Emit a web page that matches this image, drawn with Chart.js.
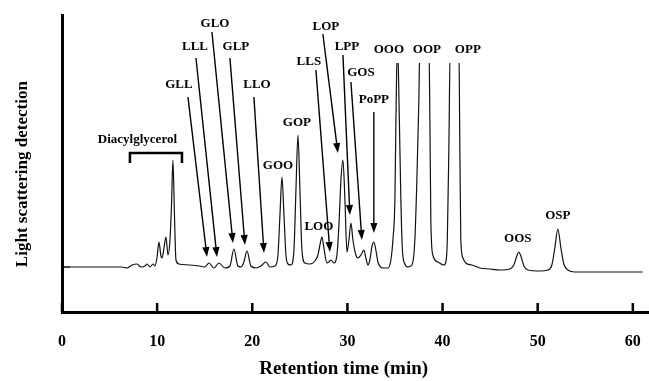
<!DOCTYPE html>
<html>
<head>
<meta charset="utf-8">
<script src="https://cdn.jsdelivr.net/npm/chart.js@4.4.1/dist/chart.umd.min.js"></script>
<style>
  html, body { margin: 0; padding: 0; background: #fff; }
  #wrap { width: 649px; height: 381px; }
</style>
</head>
<body>
<div id="wrap"><canvas id="c" width="649" height="381"></canvas></div>
<script>
// Retention time (min)
const times = [0, 6.30, 6.83, 7.36, 7.88, 8.30, 8.72, 8.93, 9.25, 9.56, 9.77, 9.98, 10.19, 10.40, 10.51, 10.72, 10.93, 11.14, 11.35, 11.51, 11.66, 11.82, 11.98, 12.29, 13.45, 14.50, 15.02, 15.45, 15.97, 16.50, 17.13, 17.65, 18.07, 18.49, 18.81, 19.12, 19.44, 19.86, 20.39, 20.91, 21.44, 21.86, 22.39, 22.70, 22.91, 23.12, 23.33, 23.54, 23.75, 24.07, 24.38, 24.59, 24.80, 25.01, 25.22, 25.53, 26.06, 26.58, 26.90, 27.11, 27.32, 27.53, 27.84, 28.05, 28.27, 28.58, 28.90, 29.11, 29.32, 29.53, 29.74, 29.95, 30.16, 30.37, 30.58, 30.89, 31.10, 31.42, 31.73, 31.94, 32.15, 32.36, 32.57, 32.78, 32.99, 33.21, 33.73, 34.26, 34.57, 34.78, 34.99, 35.10, 35.26, 35.46, 35.62, 35.78, 36.04, 36.36, 36.78, 37.09, 37.30, 37.51, 37.62, 38.56, 38.67, 38.77, 38.98, 39.51, 40.14, 40.35, 40.50, 40.66, 40.82, 41.71, 41.82, 41.92, 42.14, 42.45, 43.08, 43.92, 44.97, 46.02, 47.07, 47.49, 47.81, 48.02, 48.23, 48.55, 48.97, 50.23, 51.07, 51.49, 51.80, 52.12, 52.44, 52.75, 53.17, 53.91, 56.53, 61.05];
// Detector signal (arbitrary units, baseline = 0)
const signal = [0, 0, -1, 2, 3, 0, 1, 3, 0, 3, 1, 9, 25, 11, 9, 19, 30, 12, 27, 62, 107, 52, 7, 3, 2, 1, 0, 4, -1, 4, -1, 1, 18, 1, 0, 5, 16, 1, -1, 1, 5, 0, 1, 12, 52, 90, 52, 12, 3, 2, 17, 77, 132, 77, 17, 4, 3, 6, 12, 22, 30, 19, 4, 5, 7, 4, 12, 42, 87, 107, 67, 15, 27, 44, 27, 12, 9, 12, 17, 9, 2, 7, 20, 25, 17, 5, -1, -1, 7, 27, 67, 147, 227, 147, 67, 17, 3, 0, 2, 27, 87, 167, 227, 227, 147, 47, 12, 5, 2, 5, 27, 117, 227, 227, 117, 27, 9, 4, 2, -1, -2, -3, -2, 2, 11, 15, 11, 1, -3, -4, -3, 2, 19, 38, 19, 3, -3, -5, -5, -5];

const xTicks = [0, 10, 20, 30, 40, 50, 60];
const xTitle = "Retention time (min)";
const yTitle = "Light scattering detection";

// Peak labels: text, label position (min, signal), optional arrow [fromX, fromY, toX, toY]
const peakLabels = [
  { text: "GLL",  x: 12.29, y: 182, arrow: [13.24, 170, 15.24, 10] },
  { text: "LLL",  x: 13.98, y: 220, arrow: [14.08, 209, 16.29, 10] },
  { text: "GLO",  x: 16.08, y: 243, arrow: [15.76, 235, 17.97, 24] },
  { text: "GLP",  x: 18.28, y: 220, arrow: [17.65, 209, 19.23, 22] },
  { text: "LLO",  x: 20.49, y: 182, arrow: [20.17, 170, 21.23, 14] },
  { text: "GOO",  x: 22.70, y: 101 },
  { text: "GOP",  x: 24.69, y: 144 },
  { text: "LOO",  x: 27.00, y: 40 },
  { text: "LLS",  x: 25.95, y: 205, arrow: [26.69, 197, 28.16, 15] },
  { text: "LOP",  x: 27.74, y: 240, arrow: [27.42, 233, 29.00, 114] },
  { text: "LPP",  x: 29.95, y: 220, arrow: [29.53, 212, 30.26, 52] },
  { text: "GOS",  x: 31.42, y: 194, arrow: [30.37, 185, 31.52, 27] },
  { text: "PoPP", x: 32.78, y: 167, arrow: [32.78, 155, 32.78, 34] },
  { text: "OOO",  x: 34.36, y: 217 },
  { text: "OOP",  x: 38.35, y: 217 },
  { text: "OPP",  x: 42.66, y: 217 },
  { text: "OOS",  x: 47.91, y: 28 },
  { text: "OSP",  x: 52.12, y: 51 }
];
// Diacylglycerol group bracket: label and bracket span (min) and height
const groupLabel = { text: "Diacylglycerol", x: 7.93, y: 127 };
const groupBracket = { x1: 7.14, x2: 12.61, y: 114, yEnd: 104 };

const SERIF = "'Liberation Serif', 'Times New Roman', serif";

const annotate = {
  id: 'annotate',
  afterDatasetsDraw(chart) {
    const ctx = chart.ctx;
    const xs = chart.scales.x, ys = chart.scales.y;
    const area = chart.chartArea;
    ctx.save();
    ctx.strokeStyle = '#000';
    ctx.fillStyle = '#000';
    // inner tick marks on x axis
    ctx.lineWidth = 2.5;
    xs.ticks.forEach(t => {
      const px = xs.getPixelForValue(t.value);
      ctx.beginPath();
      ctx.moveTo(px, area.bottom);
      ctx.lineTo(px, area.bottom - 9);
      ctx.stroke();
    });
    // baseline tick on y axis
    ctx.lineWidth = 1;
    const by = ys.getPixelForValue(0);
    ctx.beginPath();
    ctx.moveTo(area.left, by);
    ctx.lineTo(area.left + 8, by);
    ctx.stroke();

    // labels
    ctx.font = "bold 13px " + SERIF;
    ctx.textAlign = 'center';
    ctx.textBaseline = 'middle';
    peakLabels.forEach(p => {
      ctx.fillText(p.text, xs.getPixelForValue(p.x), ys.getPixelForValue(p.y));
      if (p.arrow) {
        const x1 = xs.getPixelForValue(p.arrow[0]), y1 = ys.getPixelForValue(p.arrow[1]);
        const x2 = xs.getPixelForValue(p.arrow[2]), y2 = ys.getPixelForValue(p.arrow[3]);
        const ang = Math.atan2(y2 - y1, x2 - x1);
        const hl = 10, hw = 3.6;
        const bx = x2 - hl * Math.cos(ang), byy = y2 - hl * Math.sin(ang);
        ctx.lineWidth = 1.4;
        ctx.beginPath();
        ctx.moveTo(x1, y1);
        ctx.lineTo(bx, byy);
        ctx.stroke();
        ctx.beginPath();
        ctx.moveTo(x2, y2);
        ctx.lineTo(bx + hw * Math.sin(ang), byy - hw * Math.cos(ang));
        ctx.lineTo(bx - hw * Math.sin(ang), byy + hw * Math.cos(ang));
        ctx.closePath();
        ctx.fill();
      }
    });
    // group label and bracket
    ctx.fillText(groupLabel.text, xs.getPixelForValue(groupLabel.x), ys.getPixelForValue(groupLabel.y));
    const gx1 = xs.getPixelForValue(groupBracket.x1), gx2 = xs.getPixelForValue(groupBracket.x2);
    const gy = ys.getPixelForValue(groupBracket.y), gy2 = ys.getPixelForValue(groupBracket.yEnd);
    ctx.lineWidth = 2.5;
    ctx.lineJoin = 'miter';
    ctx.beginPath();
    ctx.moveTo(gx1, gy2);
    ctx.lineTo(gx1, gy);
    ctx.lineTo(gx2, gy);
    ctx.lineTo(gx2, gy2);
    ctx.stroke();
    ctx.restore();
  }
};

new Chart(document.getElementById('c'), {
  type: 'line',
  data: {
    datasets: [{
      data: times.map((t, i) => ({ x: t, y: signal[i] })),
      borderColor: '#111',
      borderWidth: 1.2,
      pointRadius: 0,
      fill: false,
      cubicInterpolationMode: 'monotone',
      clip: { left: 0, top: -48, right: 0, bottom: 0 }
    }]
  },
  options: {
    responsive: false,
    animation: false,
    devicePixelRatio: 1,
    layout: { padding: { top: 15, left: 0, right: 0, bottom: 0 } },
    plugins: { legend: { display: false }, tooltip: { enabled: false } },
    scales: {
      x: {
        type: 'linear',
        min: 0,
        max: 61.7,
        afterFit(scale) {
          scale.height = 69;
          scale.paddingLeft = 0;
          scale.paddingRight = 0;
        },
        afterBuildTicks(scale) { scale.ticks = xTicks.map(v => ({ value: v })); },
        grid: { display: false, drawTicks: false },
        border: { display: true, color: '#000', width: 3 },
        ticks: {
          color: '#000',
          padding: 20,
          font: { family: SERIF, size: 16, weight: 'bold' },
          maxRotation: 0
        },
        title: {
          display: true,
          text: xTitle + "     ",
          color: '#000',
          font: { family: SERIF, size: 19, weight: 'bold' },
          padding: { top: 1, bottom: 1 }
        }
      },
      y: {
        type: 'linear',
        min: -45,
        max: 252,
        afterFit(scale) {
          scale.width = 62;
          scale.paddingTop = 0;
          scale.paddingBottom = 0;
        },
        grid: { display: false, drawTicks: false },
        border: { display: true, color: '#000', width: 3 },
        ticks: { display: false },
        title: {
          display: true,
          text: yTitle + "     ",
          color: '#000',
          font: { family: SERIF, size: 17, weight: 'bold' },
          padding: { top: 12, bottom: 12 }
        }
      }
    }
  },
  plugins: [annotate]
});
</script>
</body>
</html>
